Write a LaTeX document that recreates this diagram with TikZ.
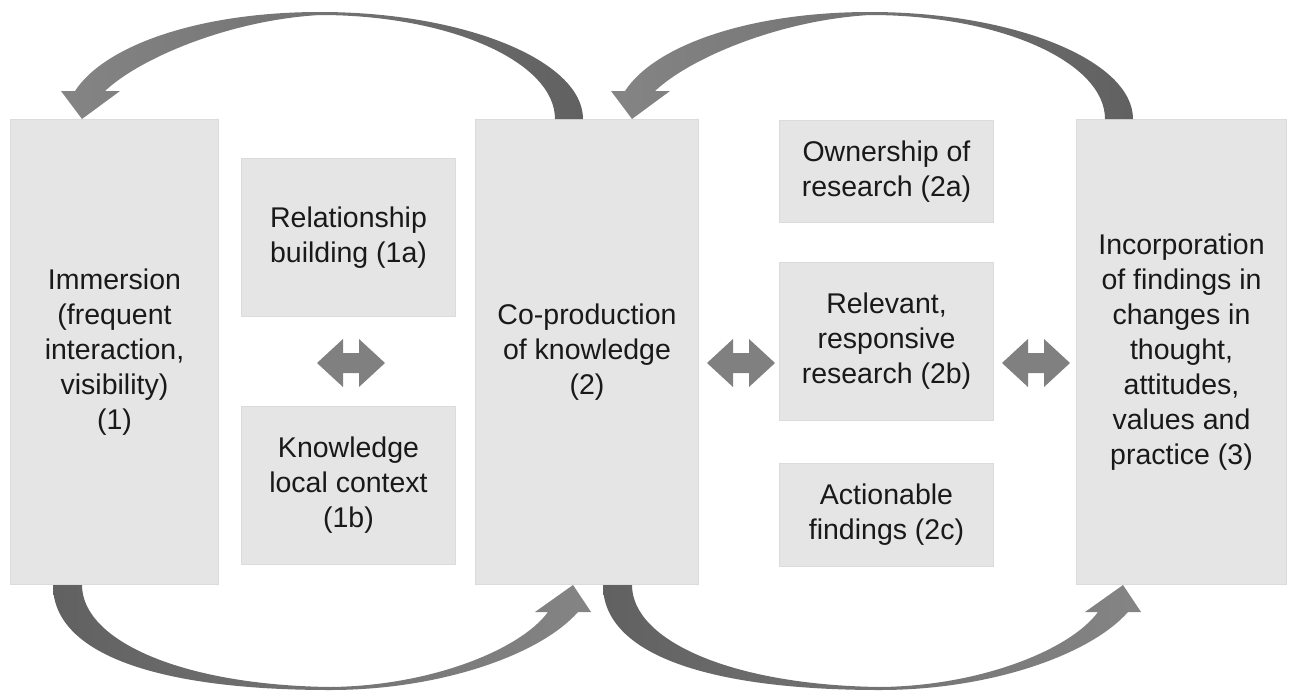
\documentclass[tikz,border=0pt]{standalone}
\usepackage{fontspec}
\setmainfont{Liberation Sans}
\usetikzlibrary{shadings}

\begin{document}
\begin{tikzpicture}[x=1pt,y=-1pt]
				\tikzstyle{box} = [draw=black!14,fill=black!10,line width=1pt,align=center,inner sep=0pt,anchor=north west,text=black!90,font=\fontsize{28.5}{35}\selectfont]
				\tikzstyle{bendl} = [left color=black!48,right color=black!62]
				\tikzstyle{bendr} = [left color=black!62,right color=black!48]
				\tikzstyle{twoway} = [fill=black!50]
				\useasboundingbox (0,0) rectangle (1290,691);
				\node[box,minimum width=208pt,minimum height=465pt] (imm) at (10,119) {Immersion\\(frequent\\interaction,\\visibility)\\(1)};
				\node[box,minimum width=214pt,minimum height=158pt] (rel) at (241,158) {Relationship\\building (1a)};
				\node[box,minimum width=214pt,minimum height=158pt] (kno) at (241,406) {Knowledge\\local context\\(1b)};
				\node[box,minimum width=223pt,minimum height=465pt] (cop) at (475,119) {Co-production\\of knowledge\\(2)};
				\node[box,minimum width=214pt,minimum height=102pt] (own) at (779,120) {Ownership of\\research (2a)};
				\node[box,minimum width=214pt,minimum height=158pt] (rsp) at (779,262) {Relevant,\\responsive\\research (2b)};
				\node[box,minimum width=214pt,minimum height=103pt] (act) at (779,463) {Actionable\\findings (2c)};
				\node[box,minimum width=210pt,minimum height=465pt] (inc) at (1076,119) {Incorporation\\of findings in\\changes in\\thought,\\attitudes,\\values and\\practice (3)};
				% curved arrows over the top
				\shade[bendl] (75,91) .. controls (105,45) and (200,12) .. (320,12)
					.. controls (465,12) and (583,61) .. ([xshift=108pt]cop.north west)
					-- ([xshift=80pt]cop.north west) .. controls (555,62) and (450,15) .. (320,15)
					.. controls (230,20) and (140,58) .. (105,91) -- (120,91) -- ([xshift=72pt]imm.north west) -- (61,91) -- cycle;
				\shade[bendl] (625,91) .. controls (655,45) and (750,12) .. (870,12)
					.. controls (1015,12) and (1133,61) .. ([xshift=57pt]inc.north west)
					-- ([xshift=29pt]inc.north west) .. controls (1105,62) and (1000,15) .. (870,15)
					.. controls (780,20) and (690,58) .. (655,91) -- (670,91) -- ([xshift=157pt]cop.north west) -- (611,91) -- cycle;
				% curved arrows underneath
				\shade[bendr] ([xshift=43pt]imm.south west) .. controls (53,655) and (160,690) .. (330,690)
					.. controls (440,690) and (540,655) .. (578,612) -- (591,612) -- ([xshift=98pt]cop.south west)
					-- (535,612) -- (548,612) .. controls (520,650) and (430,686) .. (330,687)
					.. controls (180,685) and (82,640) .. ([xshift=72pt]imm.south west) -- cycle;
				\shade[bendr] ([xshift=128pt]cop.south west) .. controls (603,655) and (710,690) .. (880,690)
					.. controls (990,690) and (1090,655) .. (1128,612) -- (1141,612) -- ([xshift=47pt]inc.south west)
					-- (1085,612) -- (1098,612) .. controls (1070,650) and (980,686) .. (880,687)
					.. controls (730,685) and (632,640) .. ([xshift=157pt]cop.south west) -- cycle;
				% double arrows
				\foreach \cx in {351,741,1036}
					\fill[twoway] (\cx,363) ++(-34,0) -- ++(26,-24) -- ++(0,14) -- ++(16,0) -- ++(0,-14) -- ++(26,24)
						-- ++(-26,24) -- ++(0,-14) -- ++(-16,0) -- ++(0,14) -- cycle;
\end{tikzpicture}
\end{document}
